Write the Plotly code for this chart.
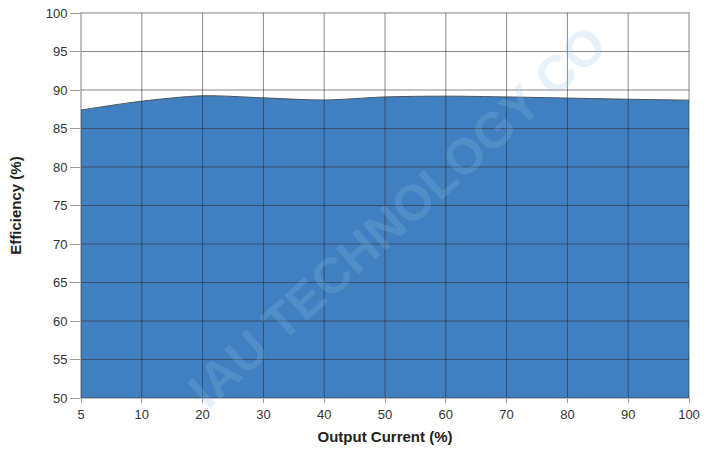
import plotly.graph_objects as go

x_labels = ["5", "10", "20", "30", "40", "50", "60", "70", "80", "90", "100"]
efficiency = [87.4, 88.55, 89.25, 88.98, 88.7, 89.1, 89.2, 89.1, 88.95, 88.8, 88.68]
y_ticks = [50, 55, 60, 65, 70, 75, 80, 85, 90, 95, 100]

xi = list(range(len(x_labels)))

fig = go.Figure()
fig.add_trace(go.Scatter(
    x=xi, y=efficiency, mode="lines",
    line=dict(color="#4a5560", width=1, shape="spline", smoothing=0.8),
    fill="tozeroy", fillcolor="#4080c0",
    hoverinfo="skip", showlegend=False,
))

shapes = []
for v in xi:
    shapes.append(dict(type="line", xref="x", yref="paper", x0=v, x1=v, y0=0, y1=1,
                       line=dict(color="rgba(40,40,40,0.55)", width=1), layer="above"))
for v in y_ticks:
    shapes.append(dict(type="line", xref="paper", yref="y", x0=0, x1=1, y0=v, y1=v,
                       line=dict(color="rgba(40,40,40,0.55)", width=1), layer="above"))

fig.update_layout(
    width=715, height=452,
    margin=dict(l=81, r=26, t=13, b=54, autoexpand=False),
    paper_bgcolor="white", plot_bgcolor="white",
    font=dict(family="Liberation Sans, Arial, sans-serif", color="#333333", size=13),
    shapes=shapes,
    xaxis=dict(
        range=[0, len(x_labels) - 1], tickvals=xi, ticktext=x_labels, automargin=False,
        showgrid=False, zeroline=False, showline=True, linecolor="#bbbbbb", linewidth=1,
        ticks="outside", ticklen=4, tickcolor="#999999", mirror=True,
        ticklabeloverflow="allow",
        title=dict(text="<b>Output Current (%)</b>", font=dict(size=15, color="#222222"), standoff=10),
    ),
    yaxis=dict(
        range=[50, 100], tickvals=y_ticks, automargin=False,
        showgrid=False, zeroline=False, showline=True, linecolor="#bbbbbb", linewidth=1,
        ticks="outside", ticklen=10, tickcolor="#999999", mirror=True,
        ticklabeloverflow="allow",
        title=dict(text="<b>Efficiency (%)</b>", font=dict(size=15, color="#222222"), standoff=20),
    ),
    annotations=[dict(
        text="<b>IAU TECHNOLOGY CO</b>", xref="paper", yref="paper",
        x=0.52, y=0.47, showarrow=False, textangle=-42,
        font=dict(size=50, color="rgba(140,190,228,0.22)", family="Liberation Sans, Arial, sans-serif"),
    )],
)

fig.write_html(
    "out.html",
    config={"displayModeBar": False},
    post_script="document.body.style.margin='0';document.body.style.padding='0';",
)
